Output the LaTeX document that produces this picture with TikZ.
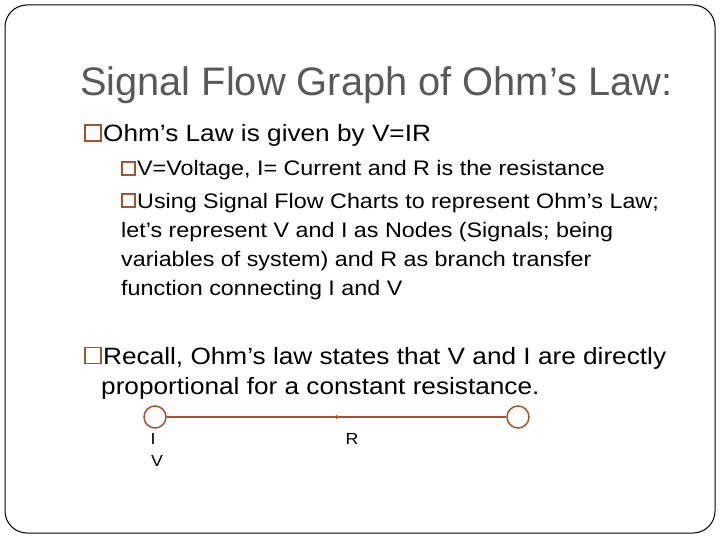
\documentclass[tikz,border=0pt]{standalone}
\usepackage{fontspec}
\setmainfont{Liberation Sans}
\newfontfamily\wide[FakeStretch=1.11]{Liberation Sans}
\usetikzlibrary{arrows.meta,decorations.markings}
\definecolor{brn}{HTML}{A5522E}
\definecolor{ttl}{HTML}{595959}
\begin{document}
\begin{tikzpicture}[x=1pt,y=-1pt,
  txt/.style={anchor=base west,inner sep=0pt,font=\wide\fontsize{21}{24}\selectfont},
  big/.style={anchor=base west,inner sep=0pt,font=\wide\fontsize{23.6}{28}\selectfont},
  bul/.style={draw=brn,line width=1.5pt,minimum size=#1,inner sep=0pt,anchor=south west},
  nd/.style={circle,draw=brn,line width=1.5pt,minimum size=22pt,inner sep=0pt},
  lab/.style={anchor=base,inner sep=0pt,font=\wide\fontsize{16}{18}\selectfont}]
\useasboundingbox (0,0) rectangle (720,540);
\draw[line width=1pt,rounded corners=22pt] (5,5) rectangle (715,533);
\node[anchor=base west,inner sep=0pt,text=ttl,font=\fontsize{39.8}{44}\selectfont] (title) at (80,96) {Signal Flow Graph of Ohm’s Law:};
\node[bul=16pt] (b1) at (84,142) {};
\node[big] (t1) at (103,142) {Ohm’s Law is given by V=IR};
\node[bul=13pt] (b2) at (121,176) {};
\node[txt] (t2) at (137,176) {V=Voltage, I= Current and R is the resistance};
\node[bul=13pt] (b3) at (121,208) {};
\node[txt] (t3) at (137,208) {Using Signal Flow Charts to represent Ohm’s Law;};
\node[txt] (t4) at (121,237) {let’s represent V and I as Nodes (Signals; being};
\node[txt] (t5) at (121,266) {variables of system) and R as branch transfer};
\node[txt] (t6) at (121,295) {function connecting I and V};
\node[bul=16pt] (b4) at (84,364) {};
\node[big] (t7) at (103,364) {Recall, Ohm’s law states that V and I are directly};
\node[big] (t8) at (101,394) {proportional for a constant resistance.};
\node[nd] (n1) at (155,417) {};
\node[nd] (n2) at (518,417) {};
\draw[brn,line width=1.5pt,decoration={markings,mark=at position 0.51 with {\arrow{Triangle[length=4pt,width=4pt]}}},postaction={decorate}] (n1) -- (n2);
\node[lab] (li) at (153,444) {I};
\node[lab] (lv) at (157,466) {V};
\node[lab] (lr) at (352,444) {R};
\end{tikzpicture}
\end{document}
